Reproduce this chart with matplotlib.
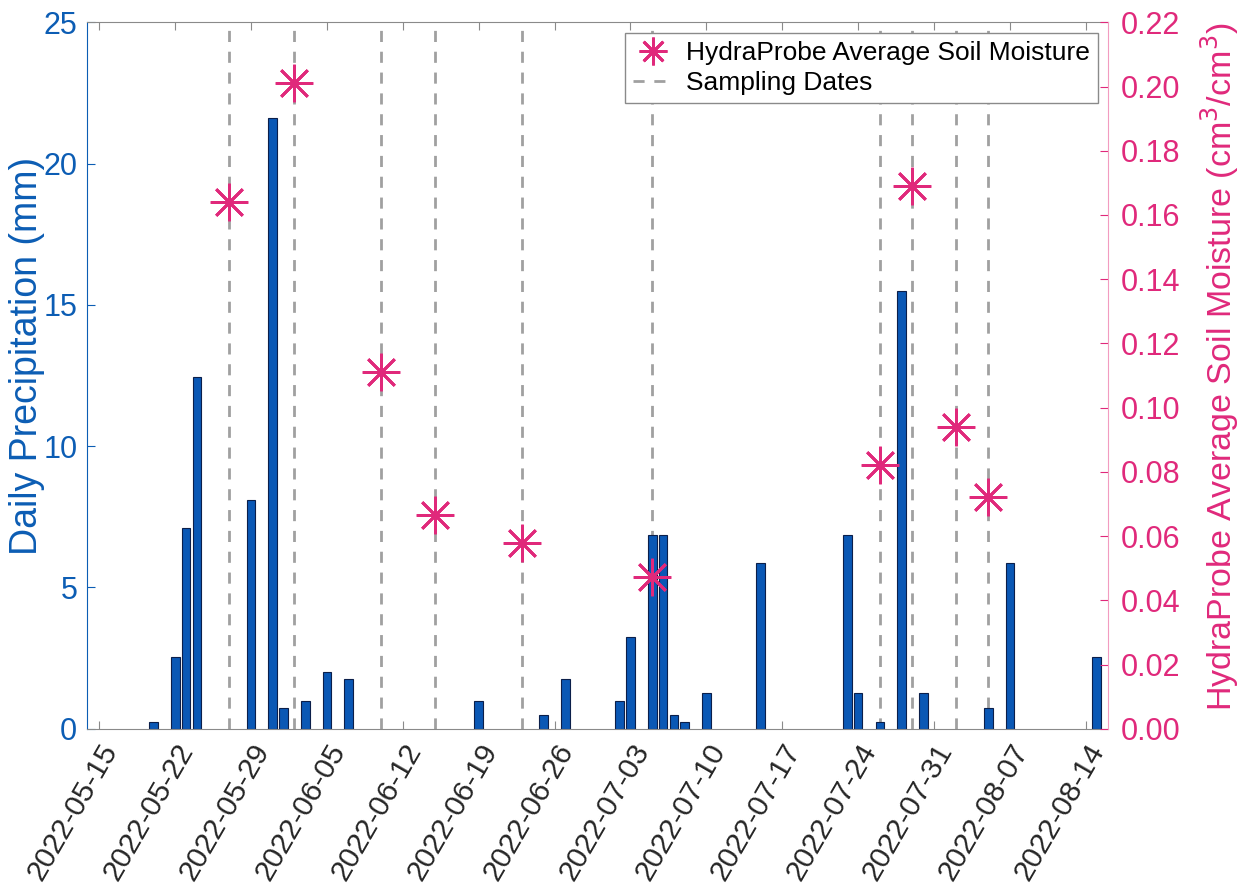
import numpy as np
import matplotlib
matplotlib.use("Agg")
import matplotlib.pyplot as plt
import matplotlib.dates as mdates
from matplotlib.lines import Line2D

plt.rcParams['font.family'] = ['Liberation Sans', 'DejaVu Sans']

# Niederschlag (mm) pro Tag
rain_dates = np.array([
    "2022-05-20", "2022-05-22", "2022-05-23", "2022-05-24", "2022-05-29",
    "2022-05-31", "2022-06-01", "2022-06-03", "2022-06-05", "2022-06-07",
    "2022-06-19", "2022-06-25", "2022-06-27", "2022-07-02", "2022-07-03",
    "2022-07-05", "2022-07-06", "2022-07-07", "2022-07-08", "2022-07-10",
    "2022-07-15", "2022-07-23", "2022-07-24", "2022-07-26", "2022-07-28",
    "2022-07-30", "2022-08-05", "2022-08-07", "2022-08-15",
], dtype="datetime64[D]")
rain_mm = [
    0.25, 2.55, 7.1, 12.45, 8.1,
    21.6, 0.75, 1.0, 2.0, 1.75,
    1.0, 0.5, 1.75, 1.0, 3.25,
    6.85, 6.85, 0.5, 0.25, 1.25,
    5.85, 6.85, 1.25, 0.25, 15.5,
    1.25, 0.75, 5.85, 2.55,
]

# Probenahmetage und Bodenfeuchte
sample_dates = np.array([
    "2022-05-27", "2022-06-02", "2022-06-10", "2022-06-15", "2022-06-23",
    "2022-07-05", "2022-07-26", "2022-07-29", "2022-08-02", "2022-08-05",
], dtype="datetime64[D]")
soil_moisture = [0.164, 0.201, 0.111, 0.0665, 0.058, 0.0473, 0.082, 0.169, 0.094, 0.0722]

blue = "#0C5DB4"
pink = "#E0297B"
dark = "#262626"

fig = plt.figure(figsize=(12.44, 8.92), dpi=100)
ax = fig.add_axes([0.070, 0.183, 0.821, 0.792])

ax.bar(rain_dates.astype("datetime64[s]").astype(object), rain_mm, width=0.8,
       color="#0A58B5", edgecolor="#0B1F4A", linewidth=0.8, zorder=2)

for d in sample_dates.astype("datetime64[s]").astype(object):
    ax.axvline(d, color="#A0A0A0", linestyle=(0, (4, 3.5)), linewidth=2.0, zorder=1)

ax.set_ylim(0, 25)
ax.set_yticks([0, 5, 10, 15, 20, 25])
ax.set_xlim(np.datetime64("2022-05-13T21:00").astype(object),
            np.datetime64("2022-08-16T02:00").astype(object))
ticks = np.arange(np.datetime64("2022-05-15"), np.datetime64("2022-08-15"), 7)
ax.set_xticks(ticks.astype("datetime64[s]").astype(object))
ax.xaxis.set_major_formatter(mdates.DateFormatter("%Y-%m-%d"))
plt.setp(ax.get_xticklabels(), rotation=60, ha="right", rotation_mode="anchor")
ax.tick_params(axis="x", labelsize=21.5, colors="#8A8A8A", labelcolor=dark,
               direction="in", length=6, top=True, pad=7)
ax.tick_params(axis="y", labelsize=22, colors=blue, direction="in", length=6, pad=7)
ax.set_ylabel("Daily Precipitation (mm)", fontsize=27, color=blue)
ax.yaxis.set_label_coords(-0.041, 0.528)
for side in ["top", "bottom"]:
    ax.spines[side].set_color("#8A8A8A")
ax.spines["left"].set_color(blue)
ax.spines["right"].set_visible(False)

ax2 = ax.twinx()
ax2.plot(sample_dates.astype("datetime64[s]").astype(object), soil_moisture,
         linestyle="none", marker=(8, 2, 0), markersize=27, markeredgewidth=2.0,
         color=pink, zorder=3)
ax2.set_ylim(0, 0.22)
ax2.set_yticks(np.round(np.arange(0, 0.2201, 0.02), 2))
ax2.yaxis.set_major_formatter(matplotlib.ticker.FormatStrFormatter("%.2f"))
ax2.tick_params(axis="y", labelsize=22, colors=pink, direction="in", length=6, pad=9)
ax2.set_ylabel("HydraProbe Average Soil Moisture (cm$^3$/cm$^3$)", fontsize=24.5,
               color=pink)
ax2.yaxis.set_label_coords(1.088, 0.512)
ax2.spines["right"].set_color("#F29CC0")
for side in ["top", "bottom", "left"]:
    ax2.spines[side].set_visible(False)

handles = [
    Line2D([], [], linestyle="none", marker=(8, 2, 0), markersize=20,
           markeredgewidth=2.0, color=pink),
    Line2D([], [], color="#A0A0A0", linestyle=(0, (4, 3.5)), linewidth=2.0),
]
leg = ax2.legend(handles, ["HydraProbe Average Soil Moisture", "Sampling Dates"],
                 loc="upper right", fontsize=19, fancybox=False, framealpha=1,
                 edgecolor="#8A8A8A", handlelength=1.5, handletextpad=0.5,
                 borderpad=0.3, labelspacing=0.25, borderaxespad=0.4)
leg.get_frame().set_linewidth(1.0)

fig.savefig("out.png", dpi=100)
